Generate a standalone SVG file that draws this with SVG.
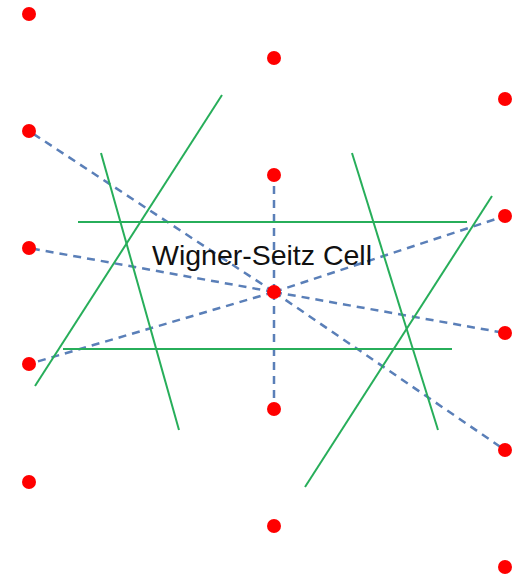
<svg xmlns="http://www.w3.org/2000/svg" width="528" height="576" viewBox="0 0 528 576">
<style>
.dot{fill:#ff0000}
.dash{stroke:#5a7fb8;stroke-width:2.5;stroke-dasharray:8 6;fill:none}
.wall{stroke:#27ae5a;stroke-width:2;fill:none}
.lbl{font-family:"Liberation Sans",Arial,sans-serif;font-size:28px;fill:#111}
</style>
<rect width="528" height="576" fill="#fff"/>
<g id="connectors">
<line class="dash" x1="274" y1="292" x2="29" y2="131"/>
<line class="dash" x1="274" y1="292" x2="29" y2="248"/>
<line class="dash" x1="274" y1="292" x2="29" y2="364"/>
<line class="dash" x1="274" y1="292" x2="274" y2="175"/>
<line class="dash" x1="274" y1="292" x2="274" y2="409"/>
<line class="dash" x1="274" y1="292" x2="505" y2="216"/>
<line class="dash" x1="274" y1="292" x2="505" y2="333"/>
<line class="dash" x1="274" y1="292" x2="505" y2="450"/>
</g>
<g id="walls">
<line class="wall" x1="222" y1="95" x2="35" y2="386"/>
<line class="wall" x1="101" y1="153" x2="179" y2="430"/>
<line class="wall" x1="352" y1="153" x2="438" y2="430"/>
<line class="wall" x1="492" y1="196" x2="305" y2="487"/>
<line class="wall" x1="78" y1="222" x2="467" y2="222"/>
<line class="wall" x1="63" y1="349" x2="452" y2="349"/>
</g>
<g id="label"><text class="lbl" x="152" y="265" textLength="220" lengthAdjust="spacingAndGlyphs">Wigner-Seitz Cell</text></g>
<g id="points">
<circle id="p1" class="dot" cx="29" cy="14" r="7"/>
<circle id="p2" class="dot" cx="274" cy="58" r="7"/>
<circle id="p3" class="dot" cx="505" cy="99" r="7"/>
<circle id="p4" class="dot" cx="29" cy="131" r="7"/>
<circle id="p5" class="dot" cx="274" cy="175" r="7"/>
<circle id="p6" class="dot" cx="505" cy="216" r="7"/>
<circle id="p7" class="dot" cx="29" cy="248" r="7"/>
<circle id="p8" class="dot" cx="274" cy="292" r="7"/>
<circle id="p9" class="dot" cx="505" cy="333" r="7"/>
<circle id="p10" class="dot" cx="29" cy="364" r="7"/>
<circle id="p11" class="dot" cx="274" cy="409" r="7"/>
<circle id="p12" class="dot" cx="505" cy="450" r="7"/>
<circle id="p13" class="dot" cx="29" cy="482" r="7"/>
<circle id="p14" class="dot" cx="274" cy="526" r="7"/>
<circle id="p15" class="dot" cx="505" cy="567" r="7"/>
</g>
</svg>
